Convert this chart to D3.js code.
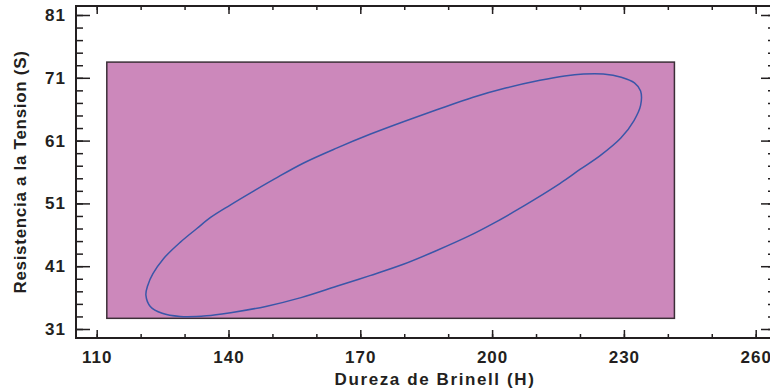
<!DOCTYPE html>
<html><head><meta charset="utf-8">
<script src="https://cdn.jsdelivr.net/npm/d3@7"></script>
<style>
html,body{margin:0;padding:0;background:#fff;}
svg{display:block;font-family:"Liberation Sans",Arial,sans-serif;}
</style></head><body>
<svg id="c" width="770" height="392"></svg>
<script>
// ---- data ----
const xTicks = [110, 140, 170, 200, 230, 260];
const xMinor = [110,120,130,140,150,160,170,180,190,200,210,220,230,240,250,260];
const yTicks = [31, 41, 51, 61, 71, 81];
const yMinor = [31,33,35,37,39,41,43,45,47,49,51,53,55,57,59,61,63,65,67,69,71,73,75,77,79,81];
const xTitle = "Dureza de Brinell (H)";
const yTitle = "Resistencia a la Tension (S)";
// shaded region (H range, S range)
const regionH = [112.3, 241.5];
const regionS = [32.7, 73.5];
// contour points (H, S)
const contourH = [121.2,121.6,122.8,125.2,129.0,132.8,136.0,140.3,145.8,150.5,157.0,164.6,172.2,179.8,187.4,195.7,203.3,210.9,216.5,220.8,225.3,229.4,232.4,233.8,233.8,232.3,229.3,224.6,220.0,215.5,209.6,204.8,200.5,195.0,187.4,179.8,172.2,164.6,156.5,148.5,140.5,135.0,129.0,124.9,122.2];
const contourS = [36.4,37.9,39.8,42.2,44.8,47.0,48.8,50.7,53.0,54.9,57.4,59.8,62.0,64.0,65.9,67.9,69.4,70.6,71.3,71.6,71.6,71.1,70.2,68.9,66.6,64.2,61.4,58.6,56.4,54.2,51.6,49.6,47.9,45.9,43.5,41.3,39.5,37.8,36.0,34.6,33.6,33.1,33.0,33.5,34.6];

// ---- layout ----
const svg = d3.select("#c");
const frame = {l: 76, r: 775, t: 6, b: 338};
const x = d3.scaleLinear().domain([110, 260]).range([96.7, 755.7]);
const y = d3.scaleLinear().domain([31, 81]).range([329, 15]);
const ink = "#231f20";
const fontSize = 17;

// region rect
svg.append("rect")
  .attr("x", x(regionH[0])).attr("y", y(regionS[1]))
  .attr("width", x(regionH[1]) - x(regionH[0]))
  .attr("height", y(regionS[0]) - y(regionS[1]))
  .attr("fill", "#cc88bb").attr("stroke", "#3b2f37").attr("stroke-width", 1.5);

// contour
const pts = contourH.map((h, i) => [h, contourS[i]]);
svg.append("path")
  .attr("d", d3.line().x(d => x(d[0])).y(d => y(d[1])).curve(d3.curveCatmullRomClosed.alpha(0.5))(pts))
  .attr("fill", "none").attr("stroke", "#3a56a8").attr("stroke-width", 1.5);

// axes
function styleAxis(g) {
  g.select(".domain").remove();
  g.selectAll("line").attr("stroke", ink).attr("stroke-width", 1.5);
  g.selectAll("text").attr("fill", ink).style("font-size", fontSize + "px")
    .style("font-weight", "bold").style("letter-spacing", "1px").style("font-family", '"Liberation Sans",Arial,sans-serif');
}
// bottom
svg.append("g").attr("transform", `translate(0,${frame.b})`)
  .call(d3.axisBottom(x).tickValues(xMinor).tickSize(-4).tickFormat("")).call(styleAxis);
svg.append("g").attr("transform", `translate(0,${frame.b})`)
  .call(d3.axisBottom(x).tickValues(xTicks).tickSize(-8).tickPadding(13).tickFormat(d3.format("d"))).call(styleAxis);
// top
svg.append("g").attr("transform", `translate(0,${frame.t})`)
  .call(d3.axisTop(x).tickValues(xMinor).tickSize(-4).tickFormat("")).call(styleAxis);
svg.append("g").attr("transform", `translate(0,${frame.t})`)
  .call(d3.axisTop(x).tickValues(xTicks).tickSize(-8).tickFormat("")).call(styleAxis);
// left
svg.append("g").attr("transform", `translate(${frame.l},0)`)
  .call(d3.axisLeft(y).tickValues(yMinor).tickSize(-7).tickFormat("")).call(styleAxis);
svg.append("g").attr("transform", `translate(${frame.l},0)`)
  .call(d3.axisLeft(y).tickValues(yTicks).tickSize(-14).tickPadding(10).tickFormat(d3.format("d"))).call(styleAxis);
// right
svg.append("g").attr("transform", `translate(${frame.r},0)`)
  .call(d3.axisRight(y).tickValues(yMinor).tickSize(-7).tickFormat("")).call(styleAxis);
svg.append("g").attr("transform", `translate(${frame.r},0)`)
  .call(d3.axisRight(y).tickValues(yTicks).tickSize(-14).tickFormat("")).call(styleAxis);

// frame
svg.append("rect")
  .attr("x", frame.l).attr("y", frame.t)
  .attr("width", frame.r - frame.l).attr("height", frame.b - frame.t)
  .attr("fill", "none").attr("stroke", ink).attr("stroke-width", 2);

// titles
svg.append("text").attr("x", 435).attr("y", 385).attr("text-anchor", "middle")
  .attr("fill", ink).style("font-size", fontSize + "px").style("font-weight", "bold").style("letter-spacing", "1.6px")
  .text(xTitle);
svg.append("text").attr("transform", `translate(26,172) rotate(-90)`).attr("text-anchor", "middle")
  .attr("fill", ink).style("font-size", fontSize + "px").style("font-weight", "bold").style("letter-spacing", "0.7px")
  .text(yTitle);
</script>
</body></html>
